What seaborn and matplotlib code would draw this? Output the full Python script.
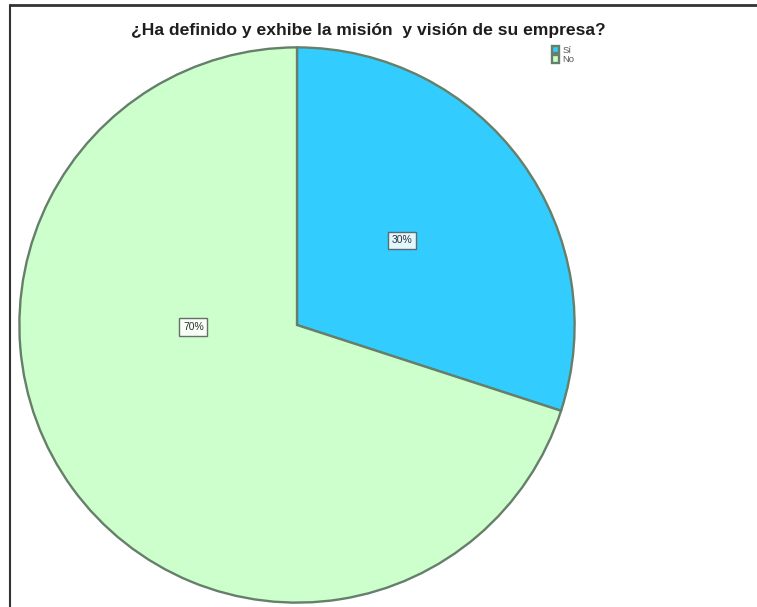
import matplotlib
matplotlib.use("Agg")
import matplotlib.pyplot as plt
from matplotlib.lines import Line2D
import seaborn as sns

sns.set_theme(style="white")
plt.rcParams["font.family"] = ["Liberation Sans", "DejaVu Sans"]

# Survey answers and their shares (%)
categories = ["Sí", "No"]
shares = [30, 70]
slice_colors = ["#33CCFF", "#CCFFCC"]
title = "¿Ha definido y exhibe la misión  y visión de su empresa?"

W, H = 757, 607
fig = plt.figure(figsize=(W / 100, H / 100), dpi=100)
fig.patch.set_facecolor("white")

# Pie area: centre (297, 325) px, radius 279 px
cx, cy, r = 297, 325, 279
ax = fig.add_axes([(cx - r) / W, (H - cy - r) / H, 2 * r / W, 2 * r / H])
ax.set_facecolor("none")

wedges, texts, autotexts = ax.pie(
    shares,
    colors=slice_colors,
    startangle=90,
    counterclock=False,
    radius=1.0,
    autopct="%1.0f%%",
    pctdistance=0.48,
    wedgeprops=dict(edgecolor="#667f6a", linewidth=1.7),
    textprops=dict(fontsize=7.5, color="#333333"),
)
ax.set_xlim(-1.005, 1.005)
ax.set_ylim(-1.005, 1.005)
ax.set_aspect("equal")
ax.axis("off")

# label boxes
label_pos = [(0.377, 0.305), (-0.373, -0.007)]
for t, pos in zip(autotexts, label_pos):
    t.set_position(pos)
    t.set_ha("center")
    t.set_va("center")
    t.set_bbox(dict(boxstyle="square,pad=0.35", facecolor="white",
                    edgecolor="#555555", linewidth=1.0, alpha=0.85))

fig.text(368 / W, 1 - 30 / H, title, ha="center", va="center",
         fontsize=12.6, fontweight="bold", color="#1e1e1e")

# legend
leg = fig.legend(wedges, categories, loc="upper left",
                 bbox_to_anchor=(547 / W, 1 - 41 / H),
                 frameon=False, fontsize=6.8, handlelength=0.8,
                 handleheight=0.8, handletextpad=0.3, labelspacing=0.05,
                 borderpad=0.0)
for txt in leg.get_texts():
    txt.set_color("#555555")

# frame lines at top and left of the figure
fig.add_artist(Line2D([10 / W, 1], [1 - 5 / H, 1 - 5 / H], color="#333333",
                      linewidth=2.0, transform=fig.transFigure))
fig.add_artist(Line2D([10 / W, 10 / W], [0, 1 - 5 / H], color="#333333",
                      linewidth=1.5, transform=fig.transFigure))

fig.savefig("out.png", dpi=100, facecolor="white")
